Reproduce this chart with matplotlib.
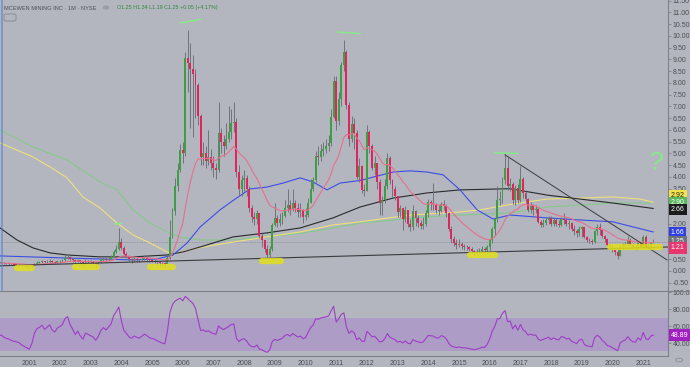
import numpy as np
import matplotlib.pyplot as plt
import matplotlib.transforms as mtrans
from matplotlib.patches import FancyBboxPatch, Circle
from matplotlib.lines import Line2D

plt.rcParams['font.family'] = ['Liberation Sans', 'DejaVu Sans']

# monthly candles Jan 2000 .. May 2021, open = previous close
first_open = 0.33
closes = [
    0.34, 0.36, 0.33, 0.31, 0.30, 0.28, 0.27, 0.26, 0.25, 0.22, 0.20, 0.18,  # 2000
    0.16, 0.20, 0.30, 0.36, 0.38, 0.41, 0.37, 0.40, 0.43, 0.38, 0.36, 0.41,  # 2001
    0.43, 0.46, 0.56, 0.60, 0.52, 0.47, 0.40, 0.45, 0.38, 0.33, 0.42, 0.40,  # 2002
    0.38, 0.36, 0.31, 0.36, 0.45, 0.50, 0.47, 0.52, 0.58, 0.80, 0.95, 1.23,  # 2003
    0.98, 0.72, 0.62, 0.50, 0.45, 0.52, 0.48, 0.45, 0.50, 0.56, 0.52, 0.46,  # 2004
    0.44, 0.42, 0.38, 0.35, 0.32, 0.30, 0.55, 1.45, 2.55, 3.60, 4.30, 5.15,  # 2005
    5.00, 9.06, 8.85, 8.60, 8.40, 7.90, 6.60, 4.85, 5.00, 4.70, 4.85, 4.60,  # 2006
    4.40, 4.30, 5.85, 5.50, 5.30, 5.60, 5.90, 6.30, 6.35, 4.20, 3.50, 3.85,  # 2007
    3.95, 3.50, 2.70, 2.30, 2.20, 2.45, 1.50, 1.30, 0.95, 0.70, 0.95, 1.95,  # 2008
    2.25, 2.05, 2.20, 2.35, 2.70, 2.80, 2.60, 2.90, 2.70, 2.50, 2.60, 2.30,  # 2009
    2.40, 2.90, 3.50, 3.85, 4.90, 4.85, 5.10, 5.20, 5.30, 5.45, 6.55, 8.10,  # 2010
    6.40, 7.30, 8.75, 9.30, 7.05, 5.60, 6.25, 5.85, 4.00, 4.45, 3.45, 3.40,  # 2011
    5.90, 5.30, 4.40, 4.60, 3.80, 2.90, 3.00, 3.60, 4.80, 3.85, 3.50, 3.20,  # 2012
    2.50, 2.70, 2.20, 2.60, 2.00, 1.85, 2.55, 2.25, 2.05, 1.90, 2.00, 2.45,  # 2013
    2.95, 2.90, 2.85, 2.60, 2.55, 2.85, 2.75, 2.45, 1.80, 1.35, 1.20, 1.10,  # 2014
    1.15, 1.05, 1.02, 1.00, 0.93, 0.85, 0.78, 0.82, 0.85, 0.92, 0.88, 1.02,  # 2015
    1.30, 1.80, 2.20, 3.00, 3.05, 3.87, 4.40, 3.60, 3.70, 3.00, 3.55, 3.00,  # 2016
    3.90, 3.30, 3.05, 2.60, 2.75, 2.60, 2.62, 2.10, 1.95, 2.05, 2.15, 2.25,  # 2017
    2.00, 2.15, 2.00, 1.95, 2.20, 2.15, 2.00, 2.05, 1.80, 1.70, 1.60, 1.80,  # 2018
    1.85, 1.45, 1.30, 1.28, 1.22, 1.70, 1.85, 1.75, 1.50, 1.35, 1.10, 1.05,  # 2019
    0.90, 0.80, 0.65, 1.00, 1.10, 1.15, 1.32, 1.12, 1.00, 0.98, 1.18, 1.04,  # 2020
    1.45, 1.05, 1.00, 1.20, 1.25,                                            # 2021
]
highs = [
    0.38, 0.40, 0.37, 0.35, 0.33, 0.31, 0.30, 0.29, 0.28, 0.26, 0.23, 0.21,
    0.20, 0.24, 0.35, 0.42, 0.44, 0.47, 0.42, 0.45, 0.50, 0.45, 0.42, 0.46,
    0.48, 0.52, 0.70, 0.74, 0.65, 0.55, 0.50, 0.52, 0.46, 0.42, 0.50, 0.48,
    0.45, 0.42, 0.38, 0.42, 0.55, 0.60, 0.56, 0.60, 0.70, 0.90, 1.10, 1.83,
    1.40, 1.05, 0.80, 0.68, 0.55, 0.60, 0.58, 0.52, 0.58, 0.66, 0.62, 0.56,
    0.52, 0.50, 0.46, 0.42, 0.40, 0.38, 0.65, 2.17, 2.70, 3.96, 4.60, 5.40,
    5.50, 9.30, 10.25, 9.70, 9.20, 8.60, 8.00, 6.70, 5.50, 5.30, 6.00, 5.20,
    4.90, 4.60, 7.20, 6.10, 5.80, 6.30, 7.00, 6.90, 7.20, 6.50, 4.50, 4.10,
    4.30, 4.10, 3.60, 2.80, 2.50, 2.60, 2.45, 1.60, 1.30, 1.10, 1.05, 2.05,
    2.90, 2.40, 2.45, 2.50, 3.00, 3.50, 3.00, 3.50, 3.00, 2.90, 2.90, 2.65,
    2.70, 3.10, 3.90, 4.00, 5.10, 5.30, 5.40, 5.50, 5.60, 5.80, 6.90, 8.30,
    8.30, 7.60, 8.90, 9.83, 9.40, 7.20, 6.60, 6.50, 6.00, 4.80, 4.50, 3.70,
    6.20, 6.00, 5.40, 4.90, 4.60, 3.90, 3.20, 3.90, 5.00, 4.90, 3.90, 3.60,
    3.20, 2.80, 2.70, 2.75, 2.50, 2.20, 2.80, 2.60, 2.40, 2.15, 2.30, 2.60,
    3.05, 3.00, 3.74, 2.90, 2.80, 2.95, 3.02, 2.85, 2.50, 1.90, 1.50, 1.35,
    1.35, 1.25, 1.15, 1.12, 1.05, 1.00, 0.90, 0.95, 0.98, 1.05, 1.00, 1.10,
    1.35, 1.85, 2.25, 3.60, 3.40, 4.00, 4.97, 4.85, 3.95, 3.80, 3.65, 3.70,
    4.48, 4.00, 3.40, 3.10, 2.95, 2.85, 2.80, 2.70, 2.15, 2.20, 2.30, 2.35,
    2.35, 2.25, 2.25, 2.15, 2.30, 2.45, 2.25, 2.15, 2.10, 1.95, 1.80, 1.90,
    1.90, 1.85, 1.48, 1.40, 1.35, 1.75, 2.00, 2.05, 1.80, 1.55, 1.40, 1.15,
    1.10, 0.95, 0.95, 1.10, 1.20, 1.25, 1.50, 1.40, 1.20, 1.10, 1.25, 1.22,
    1.55, 1.53, 1.15, 1.25, 1.34,
]
lows = [
    0.30, 0.32, 0.30, 0.28, 0.27, 0.25, 0.24, 0.23, 0.22, 0.19, 0.16, 0.13,
    0.12, 0.14, 0.19, 0.28, 0.32, 0.34, 0.33, 0.34, 0.36, 0.33, 0.31, 0.34,
    0.36, 0.40, 0.44, 0.50, 0.45, 0.40, 0.32, 0.37, 0.30, 0.20, 0.30, 0.33,
    0.32, 0.28, 0.18, 0.27, 0.34, 0.42, 0.40, 0.44, 0.48, 0.56, 0.75, 0.90,
    0.90, 0.66, 0.55, 0.42, 0.36, 0.40, 0.40, 0.38, 0.42, 0.46, 0.44, 0.38,
    0.38, 0.36, 0.24, 0.22, 0.20, 0.18, 0.28, 0.52, 1.40, 2.40, 3.40, 4.20,
    4.60, 4.90, 7.60, 6.10, 5.70, 6.50, 6.20, 4.50, 4.50, 4.40, 4.50, 4.30,
    4.00, 3.90, 4.20, 5.00, 4.90, 5.20, 5.50, 5.60, 5.90, 4.00, 3.20, 3.20,
    3.40, 3.20, 2.50, 2.10, 1.95, 2.00, 1.40, 1.00, 0.80, 0.55, 0.60, 0.85,
    1.90, 1.85, 1.90, 2.00, 2.30, 2.50, 2.40, 2.55, 2.50, 2.30, 2.30, 2.05,
    2.15, 2.30, 2.90, 3.40, 3.80, 4.50, 4.70, 4.90, 5.00, 5.10, 5.30, 6.50,
    6.00, 6.20, 7.00, 8.50, 6.90, 5.30, 5.50, 5.20, 3.90, 3.80, 3.30, 3.20,
    3.40, 5.00, 4.30, 4.10, 3.50, 2.40, 2.40, 2.90, 3.50, 3.70, 3.15, 3.00,
    2.30, 2.30, 1.74, 2.10, 1.85, 1.70, 1.75, 1.90, 1.85, 1.80, 1.80, 1.90,
    2.30, 2.60, 2.60, 2.45, 2.40, 2.50, 2.60, 2.30, 1.70, 1.20, 1.05, 0.95,
    1.00, 0.95, 0.90, 0.90, 0.85, 0.78, 0.62, 0.70, 0.75, 0.80, 0.75, 0.82,
    0.85, 1.20, 1.50, 2.10, 2.80, 2.90, 3.70, 3.45, 3.40, 2.85, 2.80, 2.90,
    2.95, 3.10, 2.90, 2.50, 2.45, 2.40, 2.45, 2.05, 1.85, 1.85, 1.95, 2.00,
    1.90, 1.90, 1.90, 1.85, 1.90, 2.00, 1.90, 1.80, 1.70, 1.55, 1.45, 1.50,
    1.45, 1.40, 1.25, 1.20, 1.15, 1.20, 1.55, 1.55, 1.40, 1.25, 1.05, 0.95,
    0.80, 0.70, 0.50, 0.62, 0.95, 1.00, 1.10, 1.05, 0.95, 0.90, 0.95, 1.00,
    1.00, 1.00, 0.95, 0.98, 1.19,
]

# long moving averages (month index, price)
blue_idx = [0.6, 26.8, 52.6, 61.9, 68.2, 73.7, 78.8, 86.6, 91.7, 98.3, 104.9, 111.2, 117.9,
            122.9, 128.4, 133.5, 141.3, 154.2, 160.9, 167.5, 173.8, 180.4, 187.1, 193.3,
            200, 214.4, 227.3, 240.2, 255.9]
blue_val = [0.64, 0.55, 0.47, 0.51, 0.68, 1.19, 1.87, 2.60, 3.00, 3.49, 3.57, 3.74, 3.96,
            3.79, 3.45, 3.74, 3.85, 4.21, 4.26, 4.21, 4.09, 3.45, 2.60, 2.21,
            2.38, 2.26, 2.17, 2.09, 1.66]
black_idx = [0.6, 7.2, 13.5, 20.1, 26.8, 39.7, 52.6, 59.2, 65.9, 72.1, 78.8, 91.7, 104.9,
             117.9, 130.8, 141.3, 154.2, 167.5, 180.4, 200, 214.4, 227.3, 240.2, 255.9]
black_val = [1.83, 1.32, 0.98, 0.77, 0.68, 0.60, 0.60, 0.64, 0.68, 0.81, 1.02, 1.45, 1.62,
             1.83, 2.26, 2.72, 3.10, 3.32, 3.45, 3.50, 3.23, 3.06, 2.89, 2.66]
yellow_idx = [0.6, 13.5, 20.1, 26.8, 33.0, 39.7, 46.3, 52.6, 59.2, 65.9, 68.2, 78.8, 91.7,
              104.9, 117.9, 130.8, 141.3, 160.9, 180.4, 188.2, 201.1, 214.4, 227.3, 240.2,
              250.8, 255.9]
yellow_val = [5.45, 4.85, 4.43, 3.96, 3.15, 2.68, 2.04, 1.53, 1.19, 0.81, 0.72, 1.00, 1.23,
              1.45, 1.66, 1.96, 2.09, 2.38, 2.51, 2.60, 2.85, 3.06, 3.10, 3.15,
              3.06, 2.92]
green_idx = [0.6, 13.5, 26.8, 39.7, 46.3, 52.6, 59.2, 65.9, 70.9, 78.8, 91.7, 117.9, 130.8,
             141.3, 167.5, 180.4, 200, 214.4, 240.2, 255.9]
green_val = [6.00, 5.28, 4.72, 3.79, 3.45, 2.60, 2.04, 1.66, 1.45, 1.32, 1.32, 1.60, 1.83,
             2.04, 2.30, 2.38, 2.47, 2.72, 2.89, 2.90]

# hand drawn annotations (month index, price)
support_line = ([0.6, 261.7], [0.22, 1.02])
down_line = ([198.0, 261.3], [4.94, 0.47])
yellow_marks = [([7.2, 13.1], 0.13), ([30.0, 38.5], 0.15), ([59.2, 68.2], 0.17),
                ([103.0, 110.4], 0.43), ([184.3, 194.1], 0.70), ([239.0, 258.6], 1.02)]
green_marks = [([45.5, 48.0], [2.00, 2.02]), ([71.0, 78.8], [10.55, 10.70]),
               ([132.3, 141.3], [10.17, 10.10]), ([194.1, 203.0], [5.03, 5.00])]

years = list(range(2001, 2022))
price_ticks = [-0.5, 0.0, 0.5, 2.0, 3.5, 4.0, 4.5, 5.0, 5.5, 6.0, 6.5, 7.0, 7.5,
               8.0, 8.5, 9.0, 9.5, 10.0, 10.5, 11.0, 11.5]
rsi_ticks = [40, 60, 80, 100]
rsi_last = 48.89

BG = '#b3b6be'
UP = '#3e9e44'
DOWN = '#e0245e'
WICK = '#70737a'
TXT = '#4d4f55'


def main():
    n = len(closes)
    idx = np.arange(n)
    c = np.array(closes)
    o = np.concatenate([[first_open], c[:-1]])
    h = np.maximum(np.array(highs), np.maximum(o, c))
    l = np.minimum(np.array(lows), np.minimum(o, c))
    up = c >= o

    # 20 EMA (pink)
    ema = []
    e = first_open
    for v in c:
        e = e + 2.0 / 21.0 * (v - e)
        ema.append(e)

    # RSI 14, wilder smoothing, seeded near the level seen at the left edge
    ag, al = 0.47 * 0.05, 0.53 * 0.05
    rsi = []
    prev = first_open
    for v in c:
        d = v - prev
        ag = (ag * 13 + max(d, 0)) / 14
        al = (al * 13 + max(-d, 0)) / 14
        rsi.append(100 - 100 / (1 + ag / al))
        prev = v

    fig = plt.figure(figsize=(6.9, 3.67), dpi=100)
    fig.patch.set_facecolor(BG)
    W, H = 690.0, 367.0
    ax = fig.add_axes([0, 77 / H, 668 / W, 290 / H])
    ax2 = fig.add_axes([0, 11 / H, 668 / W, 65 / H], sharex=ax)
    for a in (ax, ax2):
        a.set_facecolor(BG)
        for s in ('top', 'left', 'bottom'):
            a.spines[s].set_visible(False)
        a.spines['right'].set_color('#7d8088')
        a.spines['right'].set_linewidth(0.8)
        a.yaxis.tick_right()
        a.tick_params(axis='y', length=2, width=0.6, color='#7d8088', labelsize=5,
                      labelcolor=TXT, pad=1.2)

    # moving averages
    ax.plot(green_idx, green_val, color='#86c98a', lw=0.8, zorder=1)
    ax.plot(yellow_idx, yellow_val, color='#efe07c', lw=0.8, zorder=1)
    ax.plot(black_idx, black_val, color='#2a2a2e', lw=0.8, zorder=1)
    ax.plot(blue_idx, blue_val, color='#3b4de6', lw=0.8, zorder=1)
    ax.plot(idx, ema, color='#e6708f', lw=0.8, zorder=4)

    # last price line
    ax.axhline(c[-1], color='#8c8f97', lw=0.6, ls=(0, (1, 1)), zorder=0)

    # candles
    ax.vlines(idx, l, h, color=WICK, lw=0.7, zorder=2)
    body = np.maximum(np.abs(c - o), 0.025)
    ax.bar(idx, body, bottom=np.minimum(o, c), width=0.75,
           color=np.where(up, UP, DOWN), linewidth=0, zorder=3)

    # drawings
    ax.plot(*support_line, color='#3a3b3f', lw=0.8, zorder=5)
    ax.plot(*down_line, color='#3a3b3f', lw=0.7, zorder=5)
    for xs, y in yellow_marks:
        ax.plot(xs, [y, y], color='#e2df1c', lw=4.5, alpha=0.85,
                solid_capstyle='round', zorder=6)
    for xs, ys in green_marks:
        ax.plot(xs, ys, color='#84ec84', lw=1.0, zorder=6)
    ax.text(257.0, 4.6, '?', color='#84ec84', fontsize=18, ha='center', va='center',
            rotation=-8, zorder=6)

    ax.set_xlim(0.58, 261.7)
    ax.set_ylim(-0.81, 11.53)
    ax.set_yticks(price_ticks)
    ax.set_yticklabels(['%.2f' % t for t in price_ticks])
    ax.tick_params(axis='x', length=0, labelbottom=False)

    # value labels on price scale
    tr = mtrans.blended_transform_factory(ax.transAxes, ax.transData)
    labels = [('2.92', 3.19, '#f2e34c', '#222222'),
              ('2.90', 2.91, '#5cb85c', '#ffffff'),
              ('2.66', 2.63, '#1c1c1e', '#ffffff'),
              ('1.66', 1.65, '#2f3fe0', '#ffffff'),
              ('1.25', 1.25, '#6f727a', '#ffffff'),
              ('1.21', 0.98, '#e8366e', '#ffffff')]
    for txt, y, fc, tc in labels:
        ax.text(1.004, y, txt, transform=tr, fontsize=5, color=tc, ha='left', va='center',
                clip_on=False, zorder=20,
                bbox=dict(boxstyle='square,pad=0.3', fc=fc, ec='none'))

    # RSI pane
    ax2.axhspan(30, 70, color='#ad9cc6', lw=0, zorder=0)
    ax2.plot(idx, rsi, color='#a03cc8', lw=0.8, zorder=3)
    ax2.set_ylim(24.7, 101.2)
    ax2.set_yticks(rsi_ticks)
    ax2.set_yticklabels(['%.2f' % t for t in rsi_ticks])
    tr2 = mtrans.blended_transform_factory(ax2.transAxes, ax2.transData)
    ax2.text(1.004, rsi[-1], '%.2f' % rsi_last, transform=tr2, fontsize=5, color='white',
             ha='left', va='center', clip_on=False, zorder=20,
             bbox=dict(boxstyle='square,pad=0.3', fc='#a020c0', ec='none'))
    ax2.set_xticks([12 * (y - 2000) for y in years])
    ax2.set_xticklabels([str(y) for y in years])
    ax2.tick_params(axis='x', length=0, labelsize=5, labelcolor=TXT, pad=3)
    ax2.spines['bottom'].set_visible(True)
    ax2.spines['bottom'].set_color('#7d8088')
    ax2.spines['bottom'].set_linewidth(0.8)

    # pane separator and chrome
    fig.add_artist(Line2D([0, 1], [1 - 291 / H] * 2, color='#7d8088', lw=0.8))
    fig.add_artist(Line2D([1.5 / W, 1.5 / W], [77 / H, 1], color='#4a7be0', lw=1.2, alpha=0.6))
    fig.text(4 / W, 1 - 8 / H, 'MCEWEN MINING INC \u00b7 1M \u00b7 NYSE', fontsize=4.1,
             color=TXT, va='center')
    fig.add_artist(Circle((106 / W, 1 - 7.5 / H), 2.6 / W, color='#9a9da5',
                          transform=fig.transFigure))
    fig.text(117 / W, 1 - 8 / H, 'O1.25 H1.34 L1.19 C1.25 +0.05 (+4.17%)', fontsize=3.9,
             color='#2f8a3a', va='center')
    fig.add_artist(FancyBboxPatch((4 / W, 1 - 21 / H), 12 / W, 7 / H,
                                  boxstyle='round,pad=0,rounding_size=0.004',
                                  fc='none', ec='#8a8d95', lw=0.7,
                                  transform=fig.transFigure))
    fig.add_artist(Circle((679 / W, 1 - 360 / H), 3.5 / W, fill=False, ec='#8a8d95', lw=0.6,
                          transform=fig.transFigure))

    fig.savefig('out.png', dpi=100, facecolor=BG)


if __name__ == '__main__':
    main()
